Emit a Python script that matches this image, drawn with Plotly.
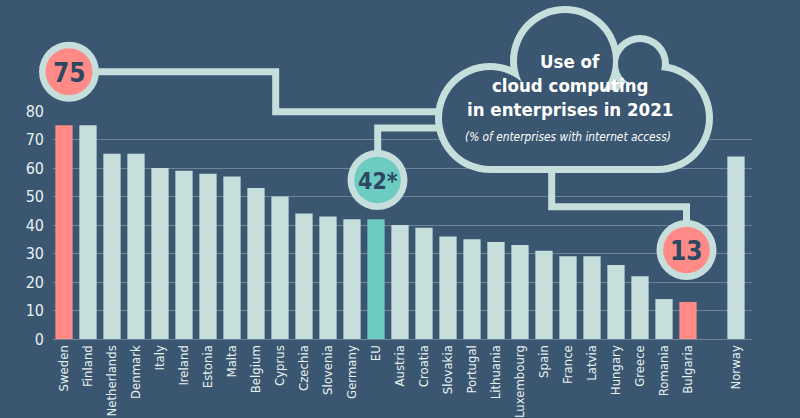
import plotly.graph_objects as go

# ---- data ----
countries = ["Sweden", "Finland", "Netherlands", "Denmark", "Italy", "Ireland", "Estonia",
             "Malta", "Belgium", "Cyprus", "Czechia", "Slovenia", "Germany", "EU", "Austria",
             "Croatia", "Slovakia", "Portugal", "Lithuania", "Luxembourg", "Spain", "France",
             "Latvia", "Hungary", "Greece", "Romania", "Bulgaria", " ", "Norway"]
values = [75, 75, 65, 65, 60, 59, 58, 57, 53, 50, 44, 43, 42, 42, 40,
          39, 36, 35, 34, 33, 31, 29, 29, 26, 22, 14, 13, None, 64]
highlight_max = "Sweden"
highlight_min = "Bulgaria"
highlight_eu = "EU"
y_ticks = [0, 10, 20, 30, 40, 50, 60, 70, 80]
badge_max = "75"
badge_eu = "42*"
badge_min = "13"
title_lines = ["Use of", "cloud computing", "in enterprises in 2021"]
subtitle = "(% of enterprises with internet access)"

# ---- styles ----
BG = "#3a5670"
LIGHT = "#c6dfdc"
SALMON = "#ff8a86"
TEAL = "#6ecbc1"
DARK = "#2c4862"
GRID = "#6f8396"
TXT = "#e8f0f1"
FONT = "Liberation Sans Narrow, DejaVu Sans Condensed, Arial Narrow, sans-serif"

W, H = 800, 418
ML, MR, MT, MB = 53, 48, 111, 79
PW, PH = W - ML - MR, H - MT - MB


def fx(x):
    return (x - ML) / PW


def fy(y):
    return (H - MB - y) / PH


colors = []
for c in countries:
    if c in (highlight_max, highlight_min):
        colors.append(SALMON)
    elif c == highlight_eu:
        colors.append(TEAL)
    else:
        colors.append(LIGHT)

fig = go.Figure(go.Bar(x=countries, y=values, marker=dict(color=colors, line=dict(width=0)),
                       hoverinfo="x+y"))

shapes = []


def circle(cx, cy, r, color):
    shapes.append(dict(type="circle", xref="paper", yref="paper", layer="above",
                       x0=fx(cx - r), x1=fx(cx + r), y0=fy(cy + r), y1=fy(cy - r),
                       fillcolor=color, line=dict(width=0)))


def rect(x0, y0, x1, y1, color):
    shapes.append(dict(type="rect", xref="paper", yref="paper", layer="above",
                       x0=fx(x0), x1=fx(x1), y0=fy(y1), y1=fy(y0),
                       fillcolor=color, line=dict(width=0)))


def polyline(pts):
    d = "M " + " L ".join(f"{fx(x):.5f},{fy(y):.5f}" for x, y in pts)
    shapes.append(dict(type="path", xref="paper", yref="paper", layer="above", path=d,
                       line=dict(color=LIGHT, width=7)))


# connectors
polyline([(69, 71.7), (275.7, 71.7), (275.7, 111.7), (442, 111.7)])
polyline([(442, 128), (377.7, 128), (377.7, 180)])
polyline([(551.7, 168), (551.7, 206.7), (686.5, 206.7), (686.5, 250)])

# cloud (outline via union of shapes)
lobes = [(490, 118, 55), (565, 61, 55), (640, 64, 29), (658, 118, 55)]
for cx, cy, r in lobes:
    circle(cx, cy, r, LIGHT)
rect(490, 90, 658, 173, LIGHT)
for cx, cy, r in lobes:
    circle(cx, cy, r - 7, BG)
rect(490, 90, 658, 166, BG)

# badges
circle(69, 71.7, 30, LIGHT)
circle(69, 71.7, 23.5, SALMON)
circle(377.5, 180, 30, LIGHT)
circle(377.5, 180, 23.3, TEAL)
circle(686.5, 250, 30, LIGHT)
circle(686.5, 250, 23.3, SALMON)

annotations = []


def label(text, x, y, size, color, bold=False, italic=False):
    t = text
    if bold:
        t = f"<b>{t}</b>"
    if italic:
        t = f"<i>{t}</i>"
    annotations.append(dict(text=t, x=fx(x), y=fy(y), xref="paper", yref="paper",
                            xanchor="center", yanchor="middle", showarrow=False,
                            font=dict(family=FONT, size=size, color=color)))


label(badge_max, 69, 73, 26, DARK, bold=True)
label(badge_eu, 378, 181, 23, DARK, bold=True)
label(badge_min, 686.5, 251, 26, DARK, bold=True)

label(title_lines[0], 570, 61, 18.5, "white", bold=True)
label(title_lines[1], 570, 85, 18.5, "white", bold=True)
label(title_lines[2], 570, 109, 18.5, "white", bold=True)
label(subtitle, 568, 137, 11.8, "white", italic=True)

fig.update_layout(
    width=W, height=H,
    margin=dict(l=ML, r=MR, t=MT, b=MB, pad=0, autoexpand=False),
    paper_bgcolor=BG, plot_bgcolor=BG,
    bargap=0.28,
    showlegend=False,
    shapes=shapes,
    annotations=annotations,
    xaxis=dict(type="category", categoryorder="array", categoryarray=countries,
               range=[-0.458, 28.667], tickangle=-90, showgrid=False, automargin=False,
               showline=True, linecolor=GRID, linewidth=1,
               ticks="", tickfont=dict(family=FONT, size=13, color=TXT),
               fixedrange=True),
    yaxis=dict(range=[0, 80], tickvals=y_ticks, showgrid=True, gridcolor=GRID, gridwidth=1,
               zeroline=False, showline=False, ticks="", automargin=False,
               tickfont=dict(family=FONT, size=16, color=TXT), ticklabelstandoff=8,
               fixedrange=True),
)

fig.write_html("out.html")
